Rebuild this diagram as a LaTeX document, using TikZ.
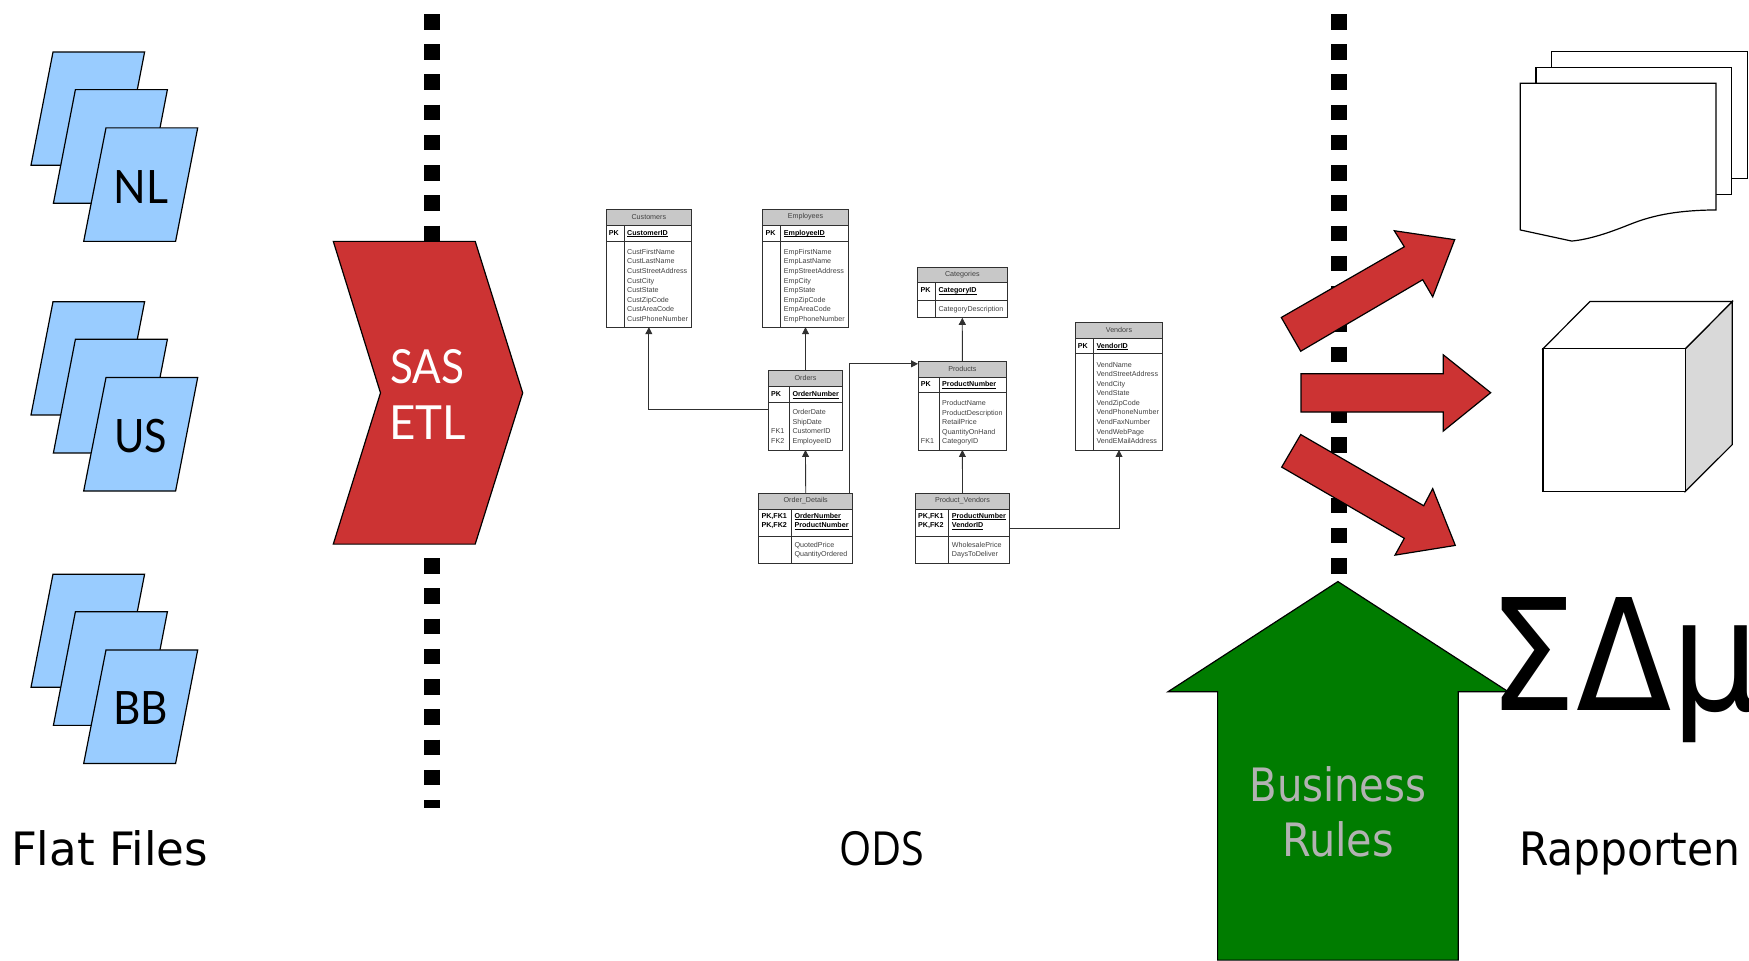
\documentclass[tikz,border=0pt]{standalone}
\usepackage{fontspec}
\setmainfont{Liberation Sans}
\newfontfamily\gillfont{Lato}
\newfontfamily\tahomafont{DejaVu Sans Condensed}
\newfontfamily\odsfont{Open Sans}
\usetikzlibrary{arrows.meta,fit}
\definecolor{etlred}{HTML}{CC3333}
\definecolor{fileblue}{HTML}{99CCFF}
\definecolor{rulegreen}{HTML}{007C00}
\definecolor{ruletext}{HTML}{B2B2B2}
\definecolor{hdrgrey}{HTML}{C8C8C8}
\definecolor{sidegrey}{HTML}{D9D9D9}
\definecolor{erdline}{HTML}{303030}
\newcommand{\keyul}[1]{\setbox0\hbox{#1}\rlap{\raisebox{-1.6pt}{\rule{\wd0}{.55pt}}}\box0 }
\tikzset{
  x=1pt,y=-1.0015pt,
  shapeline/.style={draw=black,line width=1.2pt,line join=miter},
  filesheet/.style={shapeline,fill=fileblue},
  redshape/.style={shapeline,fill=etlred},
  whiteshape/.style={shapeline,fill=white},
  dashline/.style={line width=16pt,draw=black,dash pattern=on 15.5pt off 14.73pt},
  basetext/.style={inner sep=0pt,outer sep=0pt,anchor=base west,yshift=-.7pt},
  midtext/.style={inner sep=0pt,outer sep=0pt,anchor=base,yshift=-.7pt},
  filelabel/.style={basetext,font=\gillfont\fontsize{46}{46}\selectfont},
  etllabel/.style={basetext,text=white,font=\gillfont\fontsize{47}{47}\selectfont},
  caption/.style={basetext,font=\tahomafont\fontsize{46}{46}\selectfont},
  rulelabel/.style={midtext,text=ruletext,font=\tahomafont\fontsize{46}{46}\selectfont},
  erdbox/.style={draw=erdline,line width=.85pt,inner sep=0pt,outer sep=0pt},
  erdrule/.style={draw=erdline,line width=.85pt},
  erdtitle/.style={inner sep=0pt,yshift=.4pt,text=black!75,font=\fontsize{7.15}{8}\selectfont},
  fieldtxt/.style={inner sep=0pt,anchor=mid west,yshift=.4pt,text=black!75,font=\fontsize{7.15}{8}\selectfont},
  keytxt/.style={inner sep=0pt,anchor=mid west,yshift=.4pt,text=black,font=\bfseries\fontsize{7.15}{8}\selectfont},
  fk/.style={draw=erdline,line width=.85pt,-{Triangle[length=7pt,width=7pt]}},
}
\newcommand{\flatstack}[1]{%
  \begin{scope}[shift={(0,#1)}]
    \draw[filesheet] (53,52)--(144.6,52)--(122.6,165)--(31,165)--cycle;
    \draw[filesheet] (75.4,89.5)--(167.4,89.5)--(145.4,203)--(53.4,203)--cycle;
    \draw[filesheet] (106,127.7)--(197.7,127.7)--(175.6,241)--(83.7,241)--cycle;
  \end{scope}}
% name,title,x1,xdiv,x2,y0,y1,y2,y3
\newcommand{\erd}[9]{%
  \fill[hdrgrey] (#3,#6) rectangle (#5,#7);
  \draw[erdrule] (#3,#7)--(#5,#7) (#3,#8)--(#5,#8) (#4,#7)--(#4,#9);
  \coordinate (#1-nw) at (#3,#6);
  \coordinate (#1-se) at (#5,#9);
  \node[erdbox,fit=(#1-nw)(#1-se)] (#1) {};
  \node[erdtitle] (#1-title) at ({(#3+#5)/2},{(#6+#7)/2}) {#2};}
% prefix, style, x, first y, list
\newcommand{\erdlist}[5]{%
  \foreach \t [count=\i] in {#5}
    \node[#2] (#1-\i) at (#3,{#4+9.55*(\i-1)}) {\t};}
\begin{document}
\begin{tikzpicture}
\useasboundingbox (0,0) rectangle (1749,{961/1.0015});
% separators
\coordinate (lefttop) at (432,14);
\coordinate (leftend) at (432,807);
\coordinate (righttop) at (1339,14);
\coordinate (rightend) at (1339,573);
\draw[dashline] (lefttop)--(leftend);
\draw[dashline] (righttop)--(rightend);
% flat files
\flatstack{0}
\flatstack{249.3}
\flatstack{521.3}
\node[filelabel,xscale=.93] (nl) at (113.5,202.7) {NL};
\node[filelabel,xscale=.9] (us) at (114.5,451.0) {US};
\node[filelabel,xscale=.92] (bb) at (113.5,722.3) {BB};
% ETL
\draw[redshape] (333.3,241)--(475.2,241)--(522.7,392.3)--(475.2,543.3)--(333.3,543.3)--(380.5,392.3)--cycle;
\node[etllabel,xscale=.9] (sas) at (390.5,382.7) {SAS};
\node[etllabel,xscale=.97] (etl) at (389,438) {ETL};
% ERD tables
\erd{customers}{Customers}{606}{624.3}{691.7}{209}{225}{240.7}{326.7}
\node[keytxt] (customers-pk) at (608.7,232.7) {PK};
\node[keytxt] (customers-id) at (627,232.7) {\keyul{CustomerID}};
\erdlist{customers}{fieldtxt}{627}{251.7}{CustFirstName,CustLastName,CustStreetAddress,CustCity,CustState,CustZipCode,CustAreaCode,CustPhoneNumber}
\erd{employees}{Employees}{762.7}{780.7}{848.3}{209}{225}{240.7}{326.7}
\node[keytxt] (employees-pk) at (765.3,232.7) {PK};
\node[keytxt] (employees-id) at (783.7,232.7) {\keyul{EmployeeID}};
\erdlist{employees}{fieldtxt}{783.7}{251.7}{EmpFirstName,EmpLastName,EmpStreetAddress,EmpCity,EmpState,EmpZipCode,EmpAreaCode,EmpPhoneNumber}
\erd{orders}{Orders}{768.3}{789.3}{842.7}{370}{385.7}{401.7}{449.3}
\node[keytxt] (orders-pk) at (771,393.7) {PK};
\node[keytxt] (orders-id) at (792.3,393.7) {\keyul{OrderNumber}};
\erdlist{orders}{fieldtxt}{792.3}{412}{OrderDate,ShipDate,CustomerID,EmployeeID}
\node[fieldtxt] (orders-fk1) at (771,431.1) {FK1};
\node[fieldtxt] (orders-fk2) at (771,440.6) {FK2};
\erd{categories}{Categories}{917.3}{935.7}{1007.3}{266.7}{282.3}{300}{317.3}
\node[keytxt] (categories-pk) at (920.3,290) {PK};
\node[keytxt] (categories-id) at (938.3,290) {\keyul{CategoryID}};
\node[fieldtxt] (categories-1) at (938.3,309) {CategoryDescription};
\erd{products}{Products}{918}{939.3}{1006.7}{360.7}{376.7}{392.3}{449.3}
\node[keytxt] (products-pk) at (920.7,384) {PK};
\node[keytxt] (products-id) at (942,384) {\keyul{ProductNumber}};
\erdlist{products}{fieldtxt}{942}{402.7}{ProductName,ProductDescription,RetailPrice,QuantityOnHand,CategoryID}
\node[fieldtxt] (products-fk1) at (920.7,440.9) {FK1};
\erd{vendors}{Vendors}{1075.3}{1093.3}{1162.7}{322}{337.7}{353.3}{449.3}
\node[keytxt] (vendors-pk) at (1077.7,345.5) {PK};
\node[keytxt] (vendors-id) at (1096.3,345.5) {\keyul{VendorID}};
\erdlist{vendors}{fieldtxt}{1096.3}{364.3}{VendName,VendStreetAddress,VendCity,VendState,VendZipCode,VendPhoneNumber,VendFaxNumber,VendWebPage,VendEMailAddress}
\erd{od}{Order\_Details}{758.7}{791.7}{852.7}{492.7}{508.3}{535.3}{562.3}
\erdlist{odk}{keytxt}{761.3}{515.3}{{PK,FK1},{PK,FK2}}
\erdlist{odi}{keytxt}{794.3}{515.3}{\keyul{OrderNumber},\keyul{ProductNumber}}
\erdlist{odf}{fieldtxt}{794.3}{544.3}{QuotedPrice,QuantityOrdered}
\erd{pv}{Product\_Vendors}{915.7}{948.7}{1009.3}{492.7}{508.3}{535.3}{562.3}
\erdlist{pvk}{keytxt}{918}{515.3}{{PK,FK1},{PK,FK2}}
\erdlist{pvi}{keytxt}{951.7}{515.3}{\keyul{ProductNumber},\keyul{VendorID}}
\erdlist{pvf}{fieldtxt}{951.7}{544.3}{WholesalePrice,DaysToDeliver}
% ERD connectors
\coordinate (ordersleft) at (768.3,409.3);
\coordinate (odup) at (849.3,492.7);
\coordinate (prodin) at (918,363.3);
\coordinate (pvright) at (1009.3,527.7);
\draw[fk] (ordersleft) -| (customers.south);
\draw[fk] (orders.north) -- (employees.south);
\draw[fk] (od.north) -- (orders.south);
\draw[fk] (odup) |- (prodin);
\draw[fk] (products.north) -- (categories.south);
\draw[fk] (pv.north) -- (products.south);
\draw[fk] (pvright) -| (vendors.south);
% red output arrows
\draw[redshape] (1281.3,317)--(1300.7,350.7)--(1422.7,279.3)--(1432.7,296.4)--(1454.7,239.3)--(1394.3,230.4)--(1404.3,246.4)--cycle;
\draw[redshape] (1301,373.2)--(1443.3,373.2)--(1443.3,354.3)--(1490.7,392.1)--(1443.3,430.4)--(1443.3,411.4)--(1301,411.4)--cycle;
\draw[redshape] (1300.7,433.9)--(1423.7,505)--(1432.7,487.9)--(1455.3,544.6)--(1395,554.3)--(1404.3,537.5)--(1281.7,466.4)--cycle;
% documents
\draw[whiteshape] (1551.7,51.8) rectangle (1747.7,177.9);
\draw[whiteshape] (1536,67.5) rectangle (1731.7,193.9);
\draw[whiteshape] (1520.3,83.2)--(1716,83.2)--(1716,209.6) .. controls (1680,210) and (1655,214) .. (1630,224) .. controls (1610,232) and (1590,239) .. (1571.7,240.7)--(1520.3,229.6)--cycle;
% cube
\draw[shapeline,fill=sidegrey] (1685.3,348.2)--(1732.3,301)--(1732.3,443.9)--(1685.3,490.7)--cycle;
\draw[whiteshape] (1543,348.2)--(1590,301)--(1732.3,301)--(1685.3,348.2)--cycle;
\draw[whiteshape] (1543,348.2) rectangle (1685.3,490.7);
% business rules
\draw[shapeline,fill=rulegreen] (1337.9,580.7)--(1508.3,690.7)--(1458.3,690.7)--(1458.3,958.7)--(1217.6,958.7)--(1217.6,690.7)--(1168,690.7)--cycle;
\node[rulelabel,xscale=.97] (business) at (1338,799.3) {Business};
\node[rulelabel] (rules) at (1338,854.3) {Rules};
% symbols
\node[basetext,font=\tahomafont\fontsize{155}{155}\selectfont] (greek) at (1488,708.3) {ΣΔμ};
% captions
\node[caption,xscale=1.09] (flatfiles) at (11,863.3) {Flat Files};
\node[basetext,font=\odsfont\fontsize{47}{47}\selectfont,xscale=.88] (ods) at (839,863.3) {ODS};
\node[caption,xscale=1.025] (rapporten) at (1519,863.3) {Rapporten};
\end{tikzpicture}
\end{document}
